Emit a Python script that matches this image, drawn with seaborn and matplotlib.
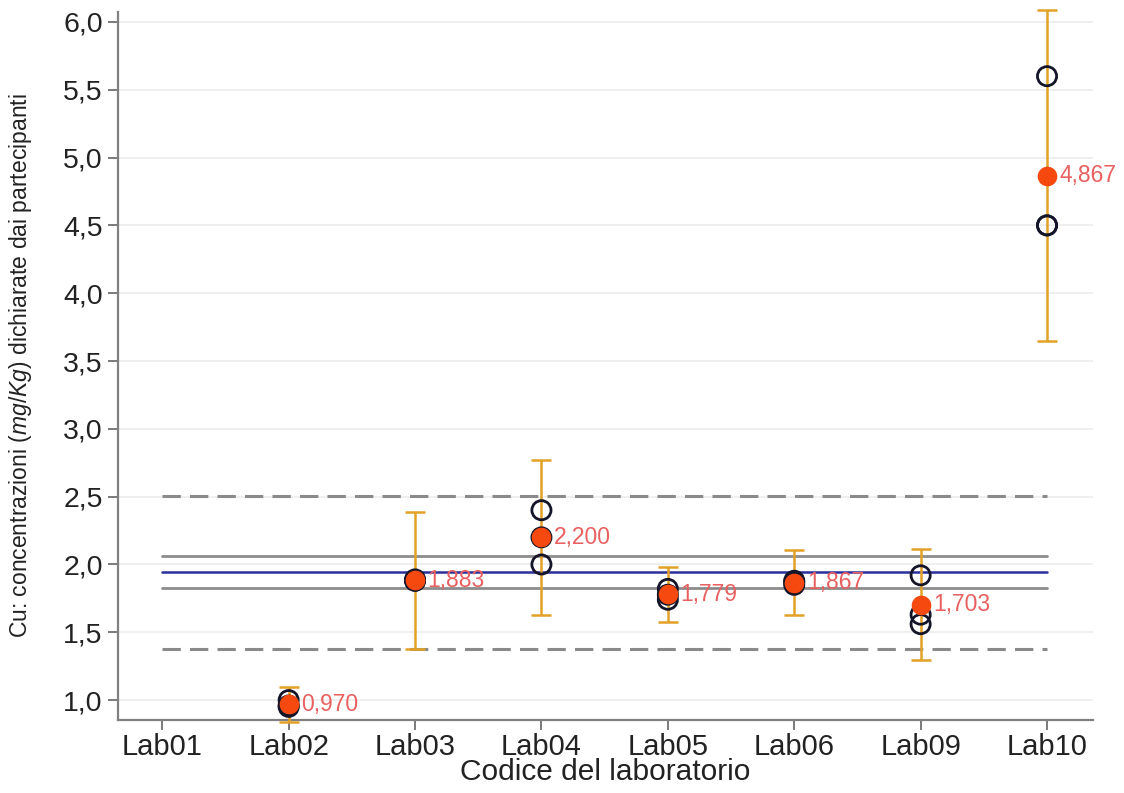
import numpy as np
import pandas as pd
import matplotlib
matplotlib.use("Agg")
import matplotlib.pyplot as plt
from matplotlib.ticker import FuncFormatter, FixedLocator
import seaborn as sns

# Laboratory codes and their three reported replicates (mg/Kg)
labs = ["Lab01", "Lab02", "Lab03", "Lab04", "Lab05", "Lab06", "Lab09", "Lab10"]
rep1 = [np.nan, 1.00, 1.88, 2.40, 1.82, 1.85, 1.92, 5.60]
rep2 = [np.nan, 0.96, 1.89, 2.20, 1.777, 1.87, 1.63, 4.50]
rep3 = [np.nan, 0.95, 1.88, 2.00, 1.74, 1.88, 1.56, 4.50]

# Laboratory means and expanded uncertainties
means = [np.nan, 0.970, 1.883, 2.200, 1.779, 1.867, 1.703, 4.867]
uncert = [np.nan, 0.13, 0.505, 0.57, 0.20, 0.24, 0.41, 1.22]

# Assigned value, its uncertainty band and the tolerance limits
assigned = 1.945
band_low, band_high = 1.83, 2.06
limit_low, limit_high = 1.375, 2.505

y_ticks = [1.0, 1.5, 2.0, 2.5, 3.0, 3.5, 4.0, 4.5, 5.0, 5.5, 6.0]

sns.set_theme(style="white")
plt.rcParams["font.family"] = ["Liberation Sans", "DejaVu Sans"]
plt.rcParams["mathtext.fontset"] = "custom"
plt.rcParams["mathtext.it"] = "Liberation Sans:italic"
plt.rcParams["mathtext.rm"] = "Liberation Sans"

reps = pd.DataFrame({"lab": labs * 3, "value": rep1 + rep2 + rep3})
summary = pd.DataFrame({"lab": labs, "mean": means, "U": uncert})

fig, ax = plt.subplots(figsize=(11.24, 7.93), dpi=100)
fig.subplots_adjust(left=0.105, right=0.972, top=0.985, bottom=0.092)

ax.set_xlim(-0.35, 7.36)
ax.set_ylim(0.853, 6.074)

# light horizontal grid
for t in y_ticks:
    ax.axhline(t, color="#ececec", lw=1.2, zorder=0)

# reference lines spanning the laboratories
x0, x1 = 0, len(labs) - 1
dash = (0, (6, 3))
ax.plot([x0, x1], [limit_high] * 2, color="#8a8a8a", lw=2.2, ls=dash, zorder=1)
ax.plot([x0, x1], [limit_low] * 2, color="#8a8a8a", lw=2.2, ls=dash, zorder=1)
ax.plot([x0, x1], [band_high] * 2, color="#8c8c8c", lw=2.0, zorder=1)
ax.plot([x0, x1], [band_low] * 2, color="#8c8c8c", lw=2.0, zorder=1)
ax.plot([x0, x1], [assigned] * 2, color="#2a2f9a", lw=1.8, zorder=2)

# uncertainty bars
xpos = np.arange(len(labs))
ax.errorbar(xpos, summary["mean"], yerr=summary["U"], fmt="none",
            ecolor="#e3a126", elinewidth=1.8, capsize=7, capthick=1.8,
            zorder=3, clip_on=False)

# individual replicates as open circles
sns.scatterplot(data=reps, x="lab", y="value", ax=ax, marker="o", s=190,
                facecolor="none", edgecolor="#15152a", linewidth=2.0,
                zorder=4, legend=False)

# laboratory means as filled dots
sns.scatterplot(data=summary, x="lab", y="mean", ax=ax, marker="o", s=200,
                color="#f5490f", edgecolor="#f5490f", linewidth=0,
                zorder=5, legend=False)

for i, m in enumerate(means):
    if not np.isnan(m):
        ax.text(i + 0.1, m, f"{m:.3f}".replace(".", ","), color="#e86060",
                fontsize=16.5, va="center", ha="left", zorder=6)

ax.yaxis.set_major_locator(FixedLocator(y_ticks))
ax.yaxis.set_major_formatter(FuncFormatter(lambda v, p: f"{v:.1f}".replace(".", ",")))

ax.set_xticks(xpos)
ax.set_xticklabels(labs)

for side in ["top", "right"]:
    ax.spines[side].set_visible(False)
for side in ["left", "bottom"]:
    ax.spines[side].set_color("#808080")
    ax.spines[side].set_linewidth(1.6)

ax.tick_params(axis="x", which="major", direction="out", length=7,
               width=1.3, color="#707070", labelsize=21, labelcolor="#222222",
               bottom=True, pad=2)
ax.tick_params(axis="y", which="major", direction="out", length=7,
               width=1.3, color="#707070", labelsize=20.5, labelcolor="#222222",
               left=True, pad=4)

ax.set_xlabel("Codice del laboratorio", fontsize=21.5, color="#222222", labelpad=-2)
ax.set_ylabel("Cu: concentrazioni ($\\it{mg/Kg}$) dichiarate dai partecipanti",
              fontsize=16.5, color="#222222")
ax.yaxis.set_label_coords(-0.086, 0.5)

fig.savefig("out.png", dpi=100, facecolor="white")
